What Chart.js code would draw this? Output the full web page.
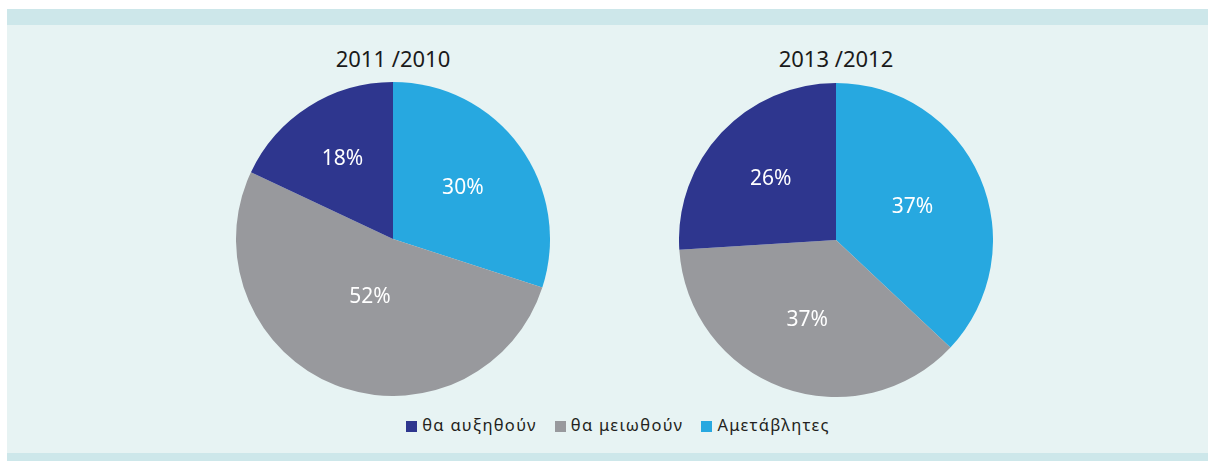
<!DOCTYPE html>
<html>
<head>
<meta charset="utf-8">
<script src="https://cdn.jsdelivr.net/npm/chart.js@4.4.1/dist/chart.umd.min.js"></script>
<style>
  body { margin: 0; width: 1208px; height: 461px; background: #ffffff; position: relative; overflow: hidden; font-family: "Noto Sans", sans-serif; }
  #panel { position: absolute; left: 7px; top: 9px; width: 1201px; height: 452px; background: #e7f3f3; }
  #bandTop { position: absolute; left: 0; top: 0; width: 100%; height: 16px; background: #cde7ea; }
  #bandBottom { position: absolute; left: 0; top: 444px; width: 100%; height: 8px; background: #cde7ea; }
  .title { position: absolute; width: 300px; text-align: center; font-size: 22px; color: #1a1a1a; }
  .pie { position: absolute; }
  #legend { position: absolute; left: 14px; width: 1208px; top: 413px; text-align: center; font-size: 16.5px; color: #231f20; letter-spacing: 1.3px; white-space: nowrap; }
  #legend span.item { display: inline-block; margin: 0 9px; }
  #legend span.box { display: inline-block; width: 11px; height: 11px; margin-right: 5px; vertical-align: -1px; }
</style>
</head>
<body>
<div id="panel"><div id="bandTop"></div><div id="bandBottom"></div></div>
<div class="title" id="title1" style="left:243px; top:43px;"></div>
<div class="title" id="title2" style="left:686px; top:43px;"></div>
<canvas id="pie1" class="pie" width="314" height="314" style="left:236px; top:82px; width:314px; height:314px;"></canvas>
<canvas id="pie2" class="pie" width="314" height="314" style="left:679px; top:83px; width:314px; height:314px;"></canvas>
<div id="legend"></div>

<script>
// slices in clockwise order from 12 o'clock
let categories = ['Αμετάβλητες', 'θα μειωθούν', 'θα αυξηθούν'];
let colors = ['#27a8e0', '#98999d', '#2e368e'];
let titles = ['2011 /2010', '2013 /2012'];
let values2011 = [30, 52, 18];
let values2013 = [37, 37, 26];

// legend reads in the opposite order
let legendOrder = [2, 1, 0];

let pctLabels = {
  id: 'pctLabels',
  afterDatasetsDraw(chart, args, opts) {
    let ctx = chart.ctx;
    let meta = chart.getDatasetMeta(0);
    let data = chart.data.datasets[0].data;
    ctx.save();
    ctx.fillStyle = '#ffffff';
    ctx.font = '21px "Noto Sans", sans-serif';
    ctx.textAlign = 'center';
    ctx.textBaseline = 'middle';
    meta.data.forEach((arc, i) => {
      let p = arc.getProps(['x', 'y', 'startAngle', 'endAngle', 'outerRadius'], true);
      let mid = (p.startAngle + p.endAngle) / 2;
      let r = p.outerRadius * opts.radius[i];
      ctx.fillText(data[i] + '%', p.x + Math.cos(mid) * r, p.y + Math.sin(mid) * r);
    });
    ctx.restore();
  }
};

function createPie(id, values, labelRadius) {
  let ctx = document.getElementById(id).getContext('2d');
  new Chart(ctx, {
    type: 'pie',
    data: {
      labels: categories,
      datasets: [{
        data: values,
        backgroundColor: colors,
        borderWidth: 0
      }]
    },
    options: {
      responsive: false,
      animation: false,
      layout: { padding: 0 },
      plugins: {
        legend: { display: false },
        tooltip: { enabled: false },
        pctLabels: { radius: labelRadius }
      }
    },
    plugins: [pctLabels]
  });
}

document.getElementById('title1').textContent = titles[0];
document.getElementById('title2').textContent = titles[1];

let legend = document.getElementById('legend');
legendOrder.forEach(i => {
  let item = document.createElement('span');
  item.className = 'item';
  let box = document.createElement('span');
  box.className = 'box';
  box.style.background = colors[i];
  item.appendChild(box);
  item.appendChild(document.createTextNode(categories[i]));
  legend.appendChild(item);
});

createPie('pie1', values2011, [0.55, 0.4, 0.6]);
createPie('pie2', values2013, [0.53, 0.54, 0.57]);
</script>
</body>
</html>
